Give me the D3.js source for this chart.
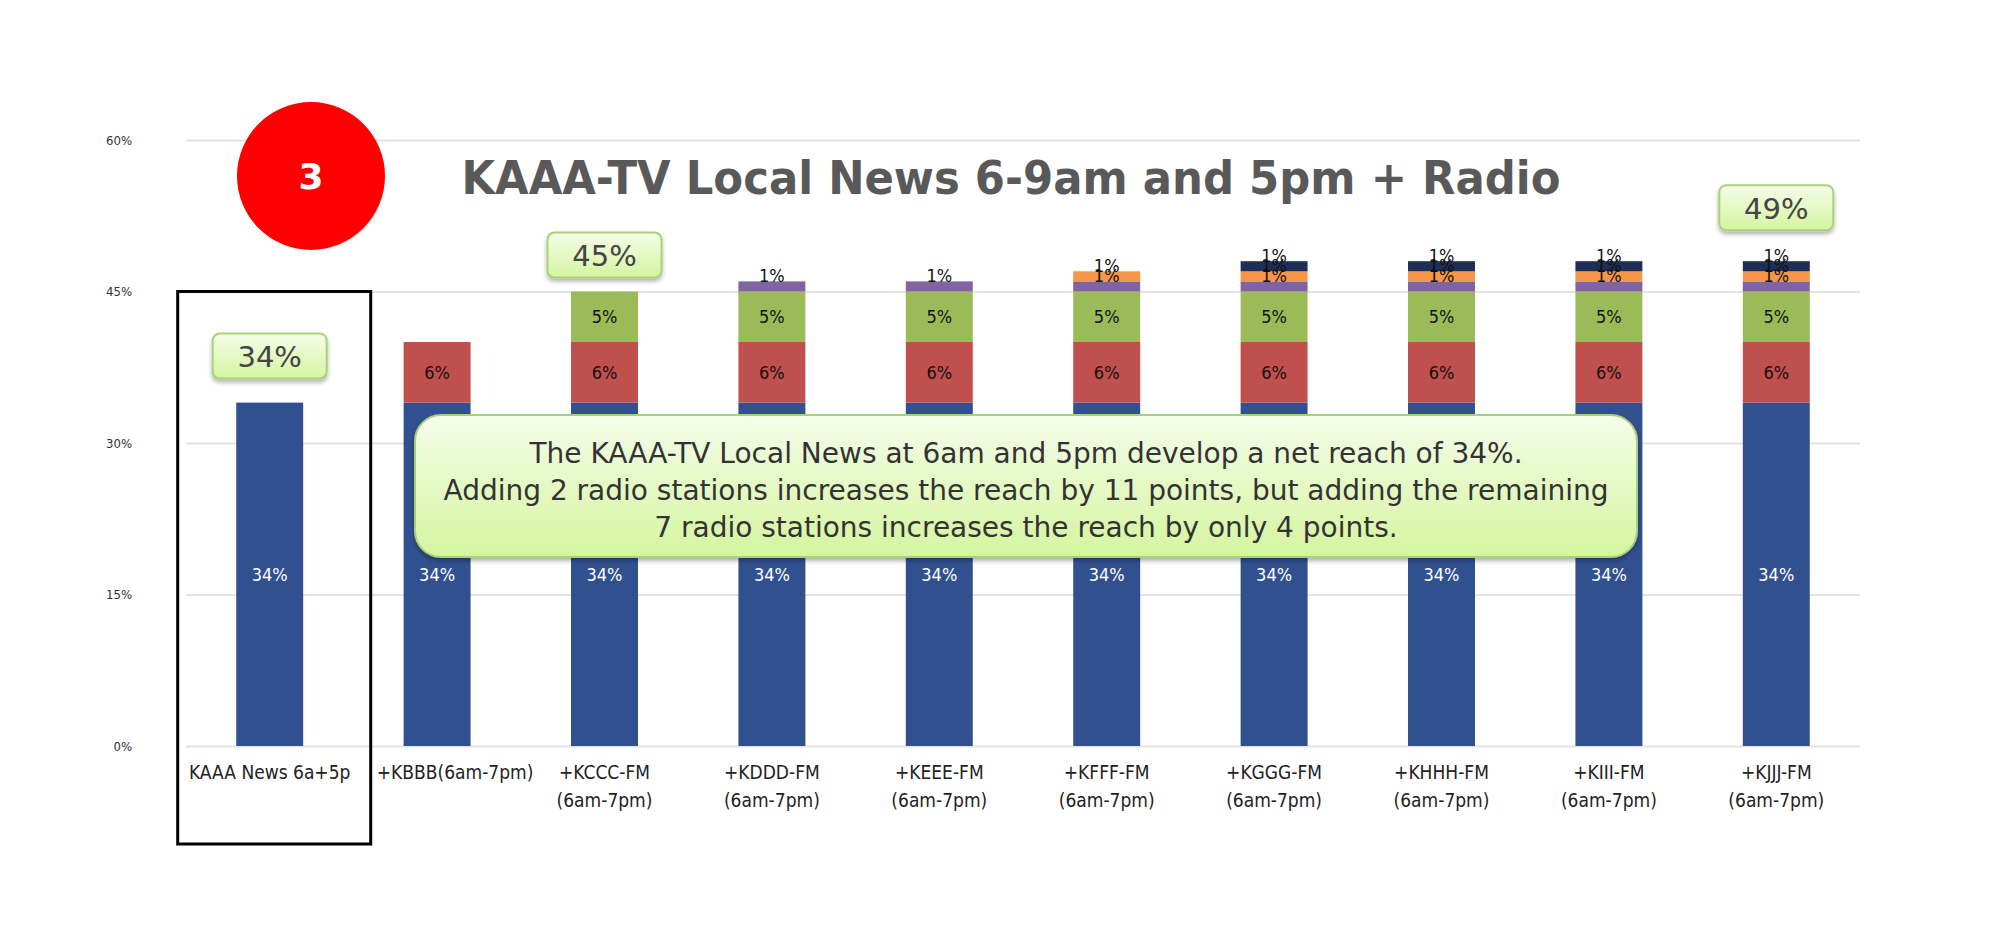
<!DOCTYPE html>
<html>
<head>
<meta charset="utf-8">
<script src="https://cdn.jsdelivr.net/npm/d3@7"></script>
<style>
  body { margin: 0; background: #fff; }
  .cond { font-family: "DejaVu Sans Condensed", "Liberation Sans Narrow", "DejaVu Sans", sans-serif; font-stretch: condensed; }
</style>
</head>
<body>
<div id="chart"></div>
<script>
// KAAA-TV + RADIO NET REACH (stacked bars)
const FRAME_WIDTH = 2000;
const FRAME_HEIGHT = 941;
const PLOT = {left: 186, right: 1860, top: 140, bottom: 746};

// categories, two text lines each
const CAT_LINE1 = ["KAAA News 6a+5p", "+KBBB(6am-7pm)", "+KCCC-FM", "+KDDD-FM", "+KEEE-FM",
                   "+KFFF-FM", "+KGGG-FM", "+KHHH-FM", "+KIII-FM", "+KJJJ-FM"];
const CAT_LINE2 = ["", "", "(6am-7pm)", "(6am-7pm)", "(6am-7pm)",
                   "(6am-7pm)", "(6am-7pm)", "(6am-7pm)", "(6am-7pm)", "(6am-7pm)"];

// stacked increments of reach (%)
const TV_NEWS = [34, 34, 34, 34, 34, 34, 34, 34, 34, 34];
const ADD_KBBB = [0, 6, 6, 6, 6, 6, 6, 6, 6, 6];
const ADD_KCCC = [0, 0, 5, 5, 5, 5, 5, 5, 5, 5];
const ADD_KDDD = [0, 0, 0, 1, 1, 1, 1, 1, 1, 1];
const ADD_KFFF = [0, 0, 0, 0, 0, 1, 1, 1, 1, 1];
const ADD_KGGG = [0, 0, 0, 0, 0, 0, 1, 1, 1, 1];

const Y_TICKS = [0, 15, 30, 45, 60];

// net reach callouts
const CALLOUT_CATS = [0, 2, 9];
const CALLOUT_TEXT = ["34%", "45%", "49%"];
const CALLOUT_GAP = [24, 14, 31];   // px above the stack top

const NOTE_LINES = ["The KAAA-TV Local News at 6am and 5pm develop a net reach of 34%.",
                    "Adding 2 radio stations increases the reach by 11 points, but adding the remaining",
                    "7 radio stations increases the reach by only 4 points."];

const KEYS = ["tv", "kbbb", "kccc", "kddd", "kfff", "kggg"];
const COLORS = {tv: "#31508f", kbbb: "#c0504d", kccc: "#9bbb59", kddd: "#8064a2", kfff: "#f79646", kggg: "#1f2e57"};

// build rows for d3.stack
const rows = CAT_LINE1.map((c, i) => ({
    cat: c, tv: TV_NEWS[i], kbbb: ADD_KBBB[i], kccc: ADD_KCCC[i],
    kddd: ADD_KDDD[i], kfff: ADD_KFFF[i], kggg: ADD_KGGG[i]
}));
const stacked = d3.stack().keys(KEYS)(rows);

const FRAME = d3.select("#chart")
                .append("svg")
                  .attr("width", FRAME_WIDTH)
                  .attr("height", FRAME_HEIGHT);

const defs = FRAME.append("defs");
const grad = defs.append("linearGradient").attr("id", "greenGrad")
                 .attr("x1", 0).attr("y1", 0).attr("x2", 0).attr("y2", 1);
grad.append("stop").attr("offset", "0%").attr("stop-color", "#f5fdea");
grad.append("stop").attr("offset", "100%").attr("stop-color", "#d4f59f");
const shadow = defs.append("filter").attr("id", "shadow")
                   .attr("x", "-10%").attr("y", "-10%").attr("width", "130%").attr("height", "140%");
shadow.append("feDropShadow").attr("dx", 0).attr("dy", 3).attr("stdDeviation", 2)
      .attr("flood-color", "#000").attr("flood-opacity", 0.3);

// scales
const X_SCALE = d3.scaleBand()
                  .domain(CAT_LINE1)
                  .range([PLOT.left, PLOT.right])
                  .paddingInner(0.6)
                  .paddingOuter(0.3);
const Y_SCALE = d3.scaleLinear()
                  .domain([0, 60])
                  .range([PLOT.bottom, PLOT.top]);

// y axis: gridlines + labels
const yAxis = FRAME.append("g")
    .attr("transform", "translate(" + PLOT.left + ",0)")
    .call(d3.axisLeft(Y_SCALE).tickValues(Y_TICKS)
             .tickSize(-(PLOT.right - PLOT.left))
             .tickPadding(54)
             .tickFormat((d) => d + "%"));
yAxis.select(".domain").remove();
yAxis.selectAll(".tick line").attr("stroke", "#e3e3e3").attr("stroke-width", 2);
yAxis.selectAll(".tick text").attr("class", "cond").attr("font-size", "13px").attr("fill", "#333");

// bars
const layers = FRAME.selectAll(".layer")
    .data(stacked)
    .enter()
    .append("g")
      .attr("fill", (d) => COLORS[d.key]);

layers.selectAll("rect")
    .data((d) => d.filter((s) => s[1] - s[0] > 0))
    .enter()
    .append("rect")
      .attr("x", (d) => X_SCALE(d.data.cat))
      .attr("y", (d) => Y_SCALE(d[1]))
      .attr("width", X_SCALE.bandwidth())
      .attr("height", (d) => Y_SCALE(d[0]) - Y_SCALE(d[1]));

// segment value labels
stacked.forEach((layer) => {
    FRAME.append("g").selectAll("text")
        .data(layer.filter((s) => s[1] - s[0] > 0))
        .enter()
        .append("text")
          .attr("class", "cond")
          .attr("x", (d) => X_SCALE(d.data.cat) + X_SCALE.bandwidth() / 2)
          .attr("y", (d) => Y_SCALE((d[0] + d[1]) / 2) + ((d[1] - d[0]) < 2 ? -11 : 0))
          .attr("dy", "0.35em")
          .attr("text-anchor", "middle")
          .attr("font-size", "18px")
          .attr("fill", layer.key === "tv" ? "#fff" : "#111")
          .text((d) => (d[1] - d[0]) + "%");
});

// x axis labels (the long one-line label is nudged right like the original)
const labelX = (d, i) => X_SCALE(d) + X_SCALE.bandwidth() / 2 + (i === 1 ? 18 : 0);
const xLab = FRAME.append("g").selectAll("text")
    .data(CAT_LINE1)
    .enter()
    .append("text")
      .attr("class", "cond")
      .attr("y", 779)
      .attr("text-anchor", "middle")
      .attr("font-size", "19px")
      .attr("fill", "#222");
xLab.append("tspan").attr("x", labelX).text((d) => d);
xLab.append("tspan").attr("x", labelX)
    .attr("dy", 28).text((d, i) => CAT_LINE2[i]);

// black frame around the first category
const firstX = X_SCALE(CAT_LINE1[0]) + X_SCALE.bandwidth() / 2;
FRAME.append("rect")
    .attr("x", firstX - 92).attr("y", Y_SCALE(45))
    .attr("width", 193).attr("height", 844 - Y_SCALE(45))
    .attr("fill", "none").attr("stroke", "#000").attr("stroke-width", 3);

// title
FRAME.append("text")
    .attr("x", 1011).attr("y", 194)
    .attr("text-anchor", "middle")
    .attr("font-family", "'DejaVu Sans', sans-serif")
    .attr("font-weight", "bold")
    .attr("font-size", "46px")
    .attr("fill", "#595959")
    .attr("textLength", 1099).attr("lengthAdjust", "spacingAndGlyphs")
    .text("KAAA-TV Local News 6-9am and 5pm + Radio");

// red step marker
FRAME.append("circle").attr("cx", 311).attr("cy", 176).attr("r", 74).attr("fill", "#ff0000");
FRAME.append("text")
    .attr("x", 311).attr("y", 176).attr("dy", "0.36em")
    .attr("text-anchor", "middle")
    .attr("font-family", "'DejaVu Sans', sans-serif")
    .attr("font-weight", "bold").attr("font-size", "36px")
    .attr("fill", "#fff").text("3");

// net reach callouts
const tops = rows.map((r) => KEYS.reduce((s, k) => s + r[k], 0));
CALLOUT_CATS.forEach((ci, i) => {
    const cx = X_SCALE(CAT_LINE1[ci]) + X_SCALE.bandwidth() / 2;
    const bottom = Y_SCALE(tops[ci]) - CALLOUT_GAP[i];
    const g = FRAME.append("g");
    g.append("rect")
        .attr("x", cx - 57).attr("y", bottom - 45)
        .attr("width", 114).attr("height", 45).attr("rx", 7)
        .attr("fill", "url(#greenGrad)").attr("stroke", "#a9d17a").attr("stroke-width", 2)
        .attr("filter", "url(#shadow)");
    g.append("text")
        .attr("x", cx).attr("y", bottom - 22).attr("dy", "0.36em")
        .attr("text-anchor", "middle")
        .attr("font-family", "'DejaVu Sans', sans-serif")
        .attr("font-size", "29px").attr("fill", "#444")
        .text(CALLOUT_TEXT[i]);
});

// explanatory note
FRAME.append("rect")
    .attr("x", 415).attr("y", 415).attr("width", 1222).attr("height", 142).attr("rx", 26)
    .attr("fill", "url(#greenGrad)").attr("stroke", "#a9d17a").attr("stroke-width", 2)
    .attr("filter", "url(#shadow)");
FRAME.append("g").selectAll("text")
    .data(NOTE_LINES)
    .enter()
    .append("text")
      .attr("x", 1026)
      .attr("y", (d, i) => 463 + i * 37)
      .attr("text-anchor", "middle")
      .attr("font-family", "'DejaVu Sans', sans-serif")
      .attr("font-size", "28px")
      .attr("fill", "#333")
      .text((d) => d);
</script>
</body>
</html>
